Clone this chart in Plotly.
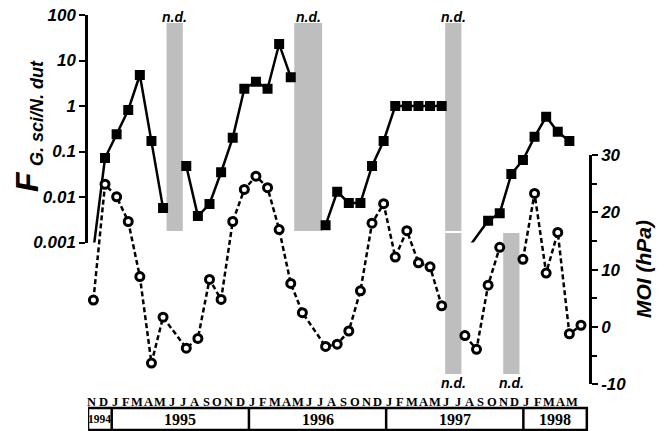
import plotly.graph_objects as go

W, H = 664, 431

# Month axis: Nov 1994 .. May 1998 (index 0 .. 42)
MONTH_LETTERS = (["N", "D"]
                 + ["J", "F", "M", "A", "M", "J", "J", "A", "S", "O", "N", "D"] * 3
                 + ["J", "F", "M", "A", "M"])
YEARS = ["1994", "1995", "1996", "1997", "1998"]
YEAR_FIRST_MONTH = [0, 2, 14, 26, 38]

# F (G. sci / N. dut ratio); None = not determined, values < 0.001 fall below the axis
F_MONTH = [0, 1, 2, 3, 4, 5, 6, 7, 8, 9, 10, 11, 12, 13, 14, 15, 16, 17, 18, 19,
           20, 21, 22, 23, 24, 25, 26, 27, 28, 29, 30, 31, 32, 34, 35, 36, 37, 38,
           39, 40, 41]
F_VALUE = [0.0007, 0.072, 0.24, 0.82, 4.8, 0.17, 0.0057, None, 0.048, 0.0038,
           0.007, 0.035, 0.20, 2.4, 3.4, 2.4, 23, 4.3, None, None,
           0.0024, 0.013, 0.0074, 0.0074, 0.048, 0.17, 1.0, 1.0, 1.0, 1.0,
           1.0, None, 0.0006, 0.0030, 0.0044, 0.032, 0.065, 0.21,
           0.58, 0.27, 0.17]

# MOI (hPa); None = not determined
MOI_MONTH = [0, 1, 2, 3, 4, 5, 6, 8, 9, 10, 11, 12, 13, 14, 15, 16, 17, 18,
             20, 21, 22, 23, 24, 25, 26, 27, 28, 29, 30, 31, 32, 33, 34, 35, 36,
             37, 38, 39, 40, 41, 42]
MOI_VALUE = [4.7, 24.9, 22.7, 18.4, 8.8, -6.3, 1.7, -3.7, -2.0, 8.3, 4.8, 18.4,
             24.0, 26.3, 24.3, 17.0, 7.6, 2.5,
             -3.4, -3.0, -0.7, 6.3, 18.1, 21.5, 12.2, 16.8, 11.2, 10.5, 3.7, None,
             -1.5, -3.9, 7.3, 13.9, None,
             11.8, 23.3, 9.4, 16.5, -1.2, 0.3]

# not-determined periods (first month, last month)
ND_F = [(7, 7), (18, 19), (31, 31)]
ND_MOI = [(31, 31), (36, 36)]

LEFT, RIGHT = 88, 589
F_TOP, F_BOT = 15, 242.5
M_TOP, M_BOT = 155, 384.3


def py(px):
    """pixel row -> paper fraction"""
    return (H - px) / H


def pxx(px):
    """pixel column -> paper fraction (paper spans the plot area)"""
    return (px - LEFT) / (RIGHT - LEFT)


BOLD_IT = dict(family="Liberation Sans", color="black", weight="bold", style="italic")
SERIF_B = dict(family="Liberation Serif", color="black", weight="bold")

fig = go.Figure()

fig.add_trace(go.Scatter(
    x=F_MONTH, y=F_VALUE, xaxis="x", yaxis="y", mode="lines+markers",
    connectgaps=False,
    line=dict(color="black", width=2.5),
    marker=dict(symbol="square", size=10, color="black", line=dict(width=0)),
))

fig.add_trace(go.Scatter(
    x=MOI_MONTH, y=MOI_VALUE, xaxis="x", yaxis="y2", mode="lines+markers",
    connectgaps=False,
    line=dict(color="black", width=2.5, dash="5px,3px"),
    marker=dict(symbol="circle", size=8, color="white",
                line=dict(color="black", width=3)),
))

shapes = []
annotations = []
ND_COLOR = "#bebebe"
HALF = 0.7

f_span = F_BOT - F_TOP
for a, b in ND_F:
    shapes.append(dict(type="rect", xref="x", yref="y domain",
                       x0=a - HALF, x1=b + HALF,
                       y0=(F_BOT - 231) / f_span, y1=(F_BOT - 23) / f_span,
                       fillcolor=ND_COLOR, line=dict(width=0), layer="below"))
    annotations.append(dict(x=(a + b) / 2, xref="x", y=py(17), yref="paper",
                            text="n.d.", showarrow=False, xanchor="center",
                            yanchor="middle", font=dict(size=14, **BOLD_IT)))

m_span = M_BOT - M_TOP
for a, b in ND_MOI:
    shapes.append(dict(type="rect", xref="x", yref="y2 domain",
                       x0=a - HALF, x1=b + HALF,
                       y0=(M_BOT - 374) / m_span, y1=(M_BOT - 233) / m_span,
                       fillcolor=ND_COLOR, line=dict(width=0), layer="below"))
    annotations.append(dict(x=(a + b) / 2, xref="x", y=py(383), yref="paper",
                            text="n.d.", showarrow=False, xanchor="center",
                            yanchor="middle", font=dict(size=14, **BOLD_IT)))

# month letters and year table on their own (hidden) month axis
X2_RANGE = [-0.3235, 43.49]
TABLE_END = 43.3
for i, letter in enumerate(MONTH_LETTERS):
    annotations.append(dict(x=i, xref="x2", y=py(402), yref="paper", text=letter,
                            showarrow=False, xanchor="center", yanchor="middle",
                            font=dict(size=12.5, **SERIF_B)))

bounds = [X2_RANGE[0]] + [m - 0.25 for m in YEAR_FIRST_MONTH[1:]] + [TABLE_END]
TAB_TOP, TAB_BOT = 408, 430
shapes.append(dict(type="rect", xref="x2", yref="paper", x0=bounds[0], x1=bounds[-1],
                   y0=py(TAB_BOT), y1=py(TAB_TOP), line=dict(color="black", width=2.5),
                   fillcolor="rgba(0,0,0,0)", layer="above"))
for xb in bounds[1:-1]:
    shapes.append(dict(type="line", xref="x2", yref="paper", x0=xb, x1=xb,
                       y0=py(TAB_BOT), y1=py(TAB_TOP),
                       line=dict(color="black", width=2.5), layer="above"))
for k, year in enumerate(YEARS):
    annotations.append(dict(x=(bounds[k] + bounds[k + 1]) / 2, xref="x2",
                            y=py(419), yref="paper", text=year, showarrow=False,
                            xanchor="center", yanchor="middle",
                            font=dict(size=11.5 if k == 0 else 16, **SERIF_B)))

# axis titles
annotations.append(dict(x=pxx(27), xref="paper", y=py(182), yref="paper", text="F",
                        textangle=-90, showarrow=False, xanchor="center",
                        yanchor="middle", font=dict(size=32, **BOLD_IT)))
annotations.append(dict(x=pxx(37), xref="paper", y=py(113), yref="paper",
                        text="G. sci/N. dut", textangle=-90, showarrow=False,
                        xanchor="center", yanchor="middle",
                        font=dict(size=18, **BOLD_IT)))
annotations.append(dict(x=pxx(643), xref="paper", y=py(269), yref="paper",
                        text="MOI (hPa)", textangle=-90, showarrow=False,
                        xanchor="center", yanchor="middle",
                        font=dict(size=21, **BOLD_IT)))

axis_common = dict(showline=True, linecolor="black", linewidth=2.5, ticks="outside",
                   ticklen=6, tickwidth=2, tickcolor="black", showgrid=False,
                   zeroline=False, fixedrange=True, automargin=False)

fig.update_layout(
    template="none",
    width=W, height=H,
    margin=dict(l=LEFT, r=W - RIGHT, t=0, b=0, pad=0, autoexpand=False),
    paper_bgcolor="white", plot_bgcolor="rgba(0,0,0,0)",
    showlegend=False,
    xaxis=dict(domain=[0, 1], range=[-0.466, 42.69], visible=False, fixedrange=True,
               automargin=False),
    xaxis2=dict(overlaying="x", range=X2_RANGE, visible=False, fixedrange=True,
                automargin=False),
    yaxis=dict(type="log", range=[-3, 2], domain=[py(F_BOT), py(F_TOP)],
               anchor="x", side="left",
               tickvals=[0.001, 0.01, 0.1, 1, 10, 100],
               ticktext=["0.001", "0.01", "0.1", "1", "10", "100"],
               tickfont=dict(size=17, **BOLD_IT), **axis_common),
    yaxis2=dict(range=[-10, 30], domain=[py(M_BOT), py(M_TOP)],
                anchor="x", side="right",
                tickvals=[-10, 0, 10, 20, 30],
                ticktext=["-10", "0", "10", "20", "30"],
                tickfont=dict(size=17, **BOLD_IT),
                minor=dict(tickvals=[-5, 5, 15, 25], ticks="outside", ticklen=5,
                           tickwidth=2, tickcolor="black"),
                **axis_common),
    shapes=shapes,
    annotations=annotations,
)

fig.write_html("out.html")
